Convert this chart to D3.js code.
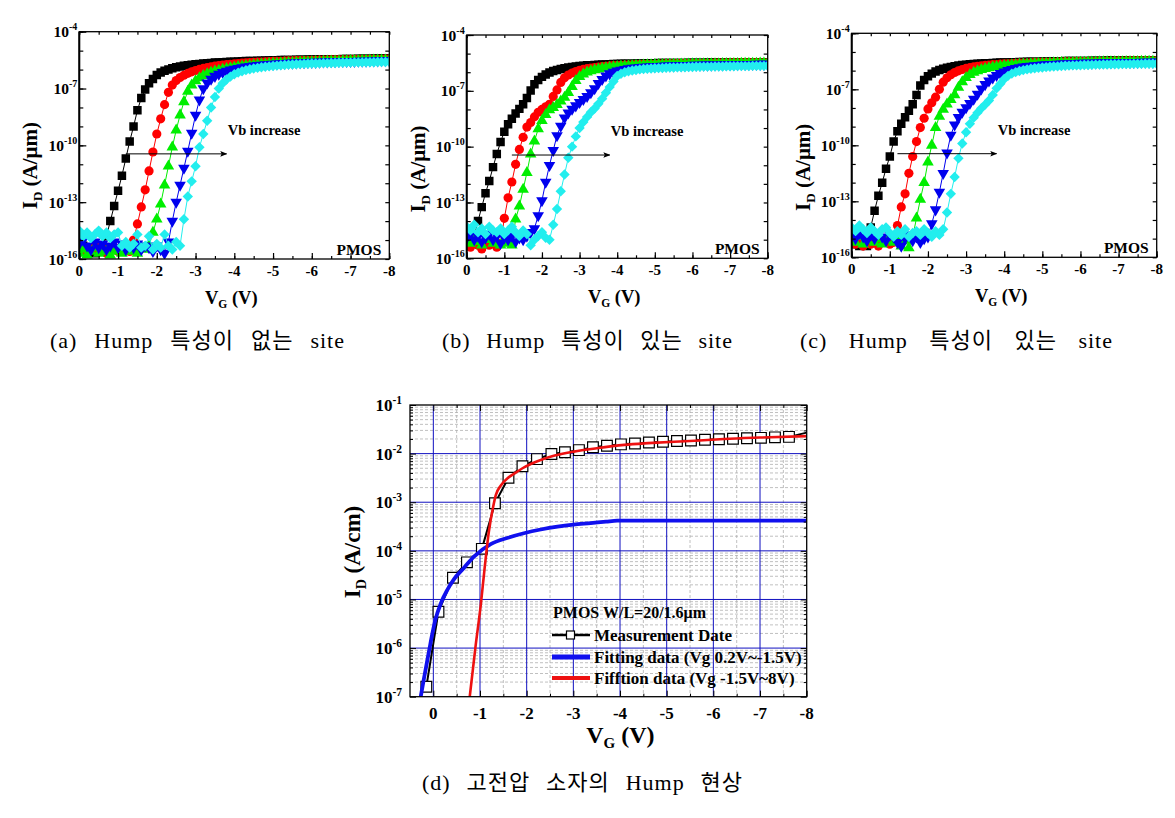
<!DOCTYPE html>
<html><head><meta charset="utf-8">
<script src="https://cdn.jsdelivr.net/npm/d3@7"></script>
<style>
body{margin:0;background:#fff}
svg{display:block}
text{font-family:"Liberation Serif","Times New Roman",serif;}
.b{font-weight:bold}
.cap{font-family:"Liberation Serif","Noto Sans CJK KR",serif;font-size:22px;letter-spacing:1px;}
</style>
</head><body>
<svg id="c" width="1175" height="818"></svg>
<script>
// ---------- DATA ----------
const VG = [0,-0.1,-0.2,-0.3,-0.4,-0.5,-0.6,-0.7,-0.8,-0.9,
 -1,-1.1,-1.2,-1.3,-1.4,-1.5,-1.6,-1.7,-1.8,-1.9,
 -2,-2.1,-2.2,-2.3,-2.4,-2.5,-2.6,-2.7,-2.8,-2.9,
 -3,-3.1,-3.2,-3.3,-3.4,-3.5,-3.6,-3.7,-3.8,-3.9,
 -4,-4.1,-4.2,-4.3,-4.4,-4.5,-4.6,-4.7,-4.8,-4.9,
 -5,-5.1,-5.2,-5.3,-5.4,-5.5,-5.6,-5.7,-5.8,-5.9,
 -6,-6.1,-6.2,-6.3,-6.4,-6.5,-6.6,-6.7,-6.8,-6.9,
 -7,-7.1,-7.2,-7.3,-7.4,-7.5,-7.6,-7.7,-7.8,-7.9,-8];

// panel (a) log10(ID [A/um])
const A_BLACK = [-15.5,-15.3,-15.6,-15.4,-15.7,-15.5,-15.3,-14.8,-14.0,-13.2,
 -12.4,-11.6,-10.7,-9.8,-9.0,-8.15,-7.5,-7.05,-6.72,-6.5,
 -6.28,-6.15,-6.06,-5.99,-5.93,-5.88,-5.84,-5.80,-5.77,-5.74,
 -5.72,-5.70,-5.68,-5.66,-5.65,-5.63,-5.62,-5.61,-5.60,-5.59,
 -5.58,-5.57,-5.56,-5.55,-5.55,-5.54,-5.53,-5.53,-5.52,-5.52,
 -5.51,-5.51,-5.50,-5.50,-5.49,-5.49,-5.48,-5.48,-5.48,-5.47,
 -5.47,-5.47,-5.46,-5.46,-5.46,-5.45,-5.45,-5.45,-5.44,-5.44,
 -5.44,-5.44,-5.43,-5.43,-5.43,-5.43,-5.42,-5.42,-5.42,-5.42,-5.42];
const A_RED = [-15.6,-15.4,-15.7,-15.5,-15.3,-15.6,-15.4,-15.7,-15.5,-15.4,
 -15.6,-15.3,-15.5,-15.6,-15.0,-14.15,-13.25,-12.35,-11.35,-10.35,
 -9.4,-8.6,-7.85,-7.2,-6.82,-6.58,-6.42,-6.30,-6.20,-6.12,
 -6.05,-5.99,-5.94,-5.90,-5.86,-5.82,-5.79,-5.76,-5.74,-5.72,
 -5.70,-5.68,-5.66,-5.65,-5.63,-5.62,-5.61,-5.60,-5.59,-5.58,
 -5.57,-5.56,-5.56,-5.55,-5.54,-5.54,-5.53,-5.53,-5.52,-5.52,
 -5.51,-5.51,-5.50,-5.50,-5.50,-5.49,-5.49,-5.49,-5.48,-5.48,
 -5.48,-5.47,-5.47,-5.47,-5.47,-5.46,-5.46,-5.46,-5.46,-5.45,-5.45];
const A_GREEN = [-15.7,-15.5,-15.8,-15.6,-15.4,-15.7,-15.5,-15.6,-15.8,-15.5,
 -15.6,-15.7,-15.4,-15.6,-15.5,-15.7,-15.4,-15.5,-15.3,-14.6,
 -13.9,-13.1,-12.1,-11.1,-10.1,-9.2,-8.4,-7.7,-7.15,-6.82,
 -6.6,-6.44,-6.32,-6.23,-6.15,-6.09,-6.04,-5.99,-5.95,-5.91,
 -5.88,-5.85,-5.82,-5.80,-5.78,-5.76,-5.74,-5.72,-5.71,-5.69,
 -5.68,-5.67,-5.66,-5.65,-5.64,-5.63,-5.62,-5.61,-5.60,-5.60,
 -5.59,-5.58,-5.58,-5.57,-5.56,-5.56,-5.55,-5.55,-5.54,-5.54,
 -5.53,-5.53,-5.53,-5.52,-5.52,-5.51,-5.51,-5.51,-5.50,-5.50,-5.50];
const A_BLUE = [-15.2,-15.0,-15.3,-15.5,-15.1,-15.4,-15.2,-15.5,-15.3,-15.1,
 -15.4,-15.2,-15.5,-15.3,-15.4,-15.2,-15.5,-15.3,-15.4,-15.6,
 -15.3,-15.5,-15.7,-15.1,-14.0,-13.0,-12.1,-11.2,-10.3,-9.35,
 -8.4,-7.6,-7.0,-6.7,-6.5,-6.35,-6.24,-6.15,-6.08,-6.02,
 -5.97,-5.93,-5.89,-5.86,-5.83,-5.80,-5.78,-5.76,-5.74,-5.72,
 -5.71,-5.70,-5.68,-5.67,-5.66,-5.65,-5.64,-5.63,-5.63,-5.62,
 -5.61,-5.61,-5.60,-5.59,-5.59,-5.58,-5.58,-5.57,-5.57,-5.56,
 -5.56,-5.56,-5.55,-5.55,-5.55,-5.54,-5.54,-5.54,-5.53,-5.53,-5.53];
const A_CYAN = [-14.5,-14.8,-14.6,-14.9,-14.7,-14.5,-14.8,-14.6,-14.9,-14.7,
 -14.6,-15.3,-15.1,-15.4,-15.2,-14.7,-15.4,-15.3,-14.8,-15.5,
 -15.2,-15.4,-14.7,-15.3,-15.5,-15.1,-15.3,-13.9,-12.7,-11.9,
 -11.1,-10.1,-9.4,-8.7,-8.0,-7.45,-7.0,-6.72,-6.52,-6.37,
 -6.25,-6.16,-6.09,-6.03,-5.98,-5.94,-5.91,-5.88,-5.85,-5.83,
 -5.81,-5.79,-5.77,-5.76,-5.74,-5.73,-5.72,-5.71,-5.70,-5.69,
 -5.68,-5.68,-5.67,-5.66,-5.66,-5.65,-5.65,-5.64,-5.64,-5.63,
 -5.63,-5.62,-5.62,-5.62,-5.61,-5.61,-5.61,-5.60,-5.60,-5.60,-5.59];

// panel (b)
const B_BLACK = [-14.9,-15.2,-14.8,-14.0,-13.25,-12.5,-11.85,-11.1,-10.4,-9.75,
 -9.2,-8.8,-8.5,-8.22,-7.97,-7.72,-7.38,-6.98,-6.65,-6.42,
 -6.25,-6.12,-6.02,-5.94,-5.88,-5.83,-5.79,-5.75,-5.72,-5.69,
 -5.67,-5.65,-5.63,-5.62,-5.61,-5.60,-5.59,-5.58,-5.57,-5.56,
 -5.56,-5.55,-5.55,-5.54,-5.54,-5.53,-5.53,-5.53,-5.52,-5.52,
 -5.52,-5.51,-5.51,-5.51,-5.51,-5.50,-5.50,-5.50,-5.50,-5.49,
 -5.49,-5.49,-5.49,-5.49,-5.48,-5.48,-5.48,-5.48,-5.48,-5.48,
 -5.47,-5.47,-5.47,-5.47,-5.47,-5.47,-5.46,-5.46,-5.46,-5.46,-5.46];
const B_RED = [-15.2,-15.4,-15.1,-15.3,-15.5,-15.2,-15.3,-15.1,-15.4,-15.2,
 -13.85,-12.75,-11.9,-10.95,-10.15,-9.5,-8.95,-8.7,-8.4,-8.15,
 -8.0,-7.86,-7.72,-7.3,-6.95,-6.55,-6.3,-6.15,-6.04,-5.96,
 -5.90,-5.85,-5.81,-5.78,-5.75,-5.72,-5.70,-5.68,-5.66,-5.65,
 -5.64,-5.63,-5.62,-5.61,-5.60,-5.59,-5.59,-5.58,-5.58,-5.57,
 -5.57,-5.56,-5.56,-5.55,-5.55,-5.55,-5.54,-5.54,-5.54,-5.53,
 -5.53,-5.53,-5.52,-5.52,-5.52,-5.52,-5.51,-5.51,-5.51,-5.51,
 -5.50,-5.50,-5.50,-5.50,-5.50,-5.49,-5.49,-5.49,-5.49,-5.49,-5.49];
const B_GREEN = [-15.0,-15.2,-14.9,-15.1,-15.3,-15.0,-14.9,-15.2,-15.1,-15.3,
 -15.0,-15.2,-15.3,-13.9,-13.2,-12.3,-11.4,-10.4,-9.7,-9.05,
 -8.6,-8.28,-8.03,-7.9,-7.74,-7.55,-7.35,-7.1,-6.78,-6.45,
 -6.24,-6.1,-6.0,-5.93,-5.88,-5.84,-5.80,-5.77,-5.74,-5.72,
 -5.70,-5.68,-5.67,-5.66,-5.65,-5.64,-5.63,-5.62,-5.61,-5.61,
 -5.60,-5.60,-5.59,-5.59,-5.58,-5.58,-5.58,-5.57,-5.57,-5.57,
 -5.56,-5.56,-5.56,-5.56,-5.55,-5.55,-5.55,-5.55,-5.54,-5.54,
 -5.54,-5.54,-5.54,-5.53,-5.53,-5.53,-5.53,-5.53,-5.52,-5.52,-5.52];
const B_BLUE = [-14.9,-14.7,-15.0,-14.8,-15.1,-14.9,-14.7,-15.0,-14.8,-15.2,
 -14.9,-15.0,-14.8,-15.1,-14.9,-15.0,-14.8,-14.6,-14.4,-13.7,
 -12.9,-11.9,-11.0,-10.2,-9.4,-8.9,-8.45,-8.18,-7.98,-7.8,
 -7.62,-7.46,-7.3,-7.1,-6.88,-6.6,-6.38,-6.2,-6.08,-5.99,
 -5.93,-5.88,-5.84,-5.81,-5.78,-5.76,-5.74,-5.72,-5.71,-5.70,
 -5.69,-5.68,-5.67,-5.66,-5.66,-5.65,-5.64,-5.64,-5.63,-5.63,
 -5.62,-5.62,-5.62,-5.61,-5.61,-5.61,-5.60,-5.60,-5.60,-5.59,
 -5.59,-5.59,-5.59,-5.58,-5.58,-5.58,-5.58,-5.57,-5.57,-5.57,-5.57];
const B_CYAN = [-14.3,-14.5,-14.2,-14.6,-14.4,-14.7,-14.3,-14.5,-14.6,-14.4,
 -14.7,-14.5,-14.3,-14.6,-14.8,-14.5,-14.7,-15.3,-15.0,-14.8,
 -14.6,-14.9,-15.0,-14.2,-13.35,-12.4,-11.5,-10.6,-10.0,-9.45,
 -9.0,-8.68,-8.4,-8.15,-7.95,-7.7,-7.42,-7.1,-6.8,-6.5,
 -6.2,-6.08,-6.0,-5.95,-5.91,-5.88,-5.85,-5.83,-5.81,-5.80,
 -5.79,-5.78,-5.77,-5.76,-5.75,-5.75,-5.74,-5.73,-5.73,-5.72,
 -5.72,-5.71,-5.71,-5.70,-5.70,-5.70,-5.69,-5.69,-5.69,-5.68,
 -5.68,-5.68,-5.67,-5.67,-5.67,-5.67,-5.66,-5.66,-5.66,-5.66,-5.65];

// panel (c)
const C_BLACK = [-15.3,-15.1,-15.4,-15.2,-15.4,-14.4,-13.5,-12.7,-12.0,-11.25,
 -10.6,-9.8,-9.25,-8.85,-8.5,-8.15,-7.8,-7.3,-6.8,-6.5,
 -6.3,-6.16,-6.05,-5.97,-5.9,-5.85,-5.80,-5.76,-5.73,-5.70,
 -5.68,-5.66,-5.64,-5.63,-5.62,-5.61,-5.60,-5.59,-5.58,-5.57,
 -5.57,-5.56,-5.55,-5.55,-5.54,-5.54,-5.53,-5.53,-5.52,-5.52,
 -5.51,-5.51,-5.51,-5.50,-5.50,-5.50,-5.49,-5.49,-5.49,-5.48,
 -5.48,-5.48,-5.48,-5.47,-5.47,-5.47,-5.47,-5.46,-5.46,-5.46,
 -5.46,-5.46,-5.45,-5.45,-5.45,-5.45,-5.45,-5.44,-5.44,-5.44,-5.44];
const C_RED = [-15.1,-15.3,-15.0,-15.4,-15.2,-15.3,-15.1,-15.4,-15.2,-15.0,
 -15.3,-15.2,-14.3,-13.3,-12.6,-11.5,-10.6,-9.8,-9.05,-8.55,
 -8.05,-7.72,-7.42,-7.0,-6.62,-6.38,-6.22,-6.1,-6.01,-5.94,
 -5.88,-5.84,-5.80,-5.77,-5.74,-5.72,-5.70,-5.68,-5.67,-5.65,
 -5.64,-5.63,-5.62,-5.61,-5.60,-5.59,-5.59,-5.58,-5.57,-5.57,
 -5.56,-5.56,-5.55,-5.55,-5.54,-5.54,-5.53,-5.53,-5.53,-5.52,
 -5.52,-5.52,-5.51,-5.51,-5.51,-5.50,-5.50,-5.50,-5.50,-5.49,
 -5.49,-5.49,-5.49,-5.48,-5.48,-5.48,-5.48,-5.48,-5.47,-5.47,-5.47];
const C_GREEN = [-15.0,-15.2,-14.9,-15.3,-15.1,-14.8,-15.2,-15.0,-15.3,-15.1,
 -14.9,-15.2,-15.0,-15.4,-15.1,-15.5,-14.9,-13.9,-12.9,-12.0,
 -10.9,-10.0,-9.05,-8.45,-8.08,-7.8,-7.55,-7.3,-6.9,-6.6,
 -6.38,-6.22,-6.1,-6.02,-5.95,-5.90,-5.86,-5.82,-5.79,-5.76,
 -5.74,-5.72,-5.70,-5.69,-5.67,-5.66,-5.65,-5.64,-5.63,-5.62,
 -5.61,-5.61,-5.60,-5.59,-5.59,-5.58,-5.58,-5.57,-5.57,-5.56,
 -5.56,-5.56,-5.55,-5.55,-5.55,-5.54,-5.54,-5.54,-5.53,-5.53,
 -5.53,-5.53,-5.52,-5.52,-5.52,-5.52,-5.51,-5.51,-5.51,-5.51,-5.51];
const C_BLUE = [-14.8,-15.0,-14.7,-14.9,-15.1,-14.8,-15.0,-14.7,-14.9,-15.1,
 -14.8,-14.9,-15.2,-15.4,-15.0,-14.8,-15.1,-14.9,-15.2,-15.0,
 -14.9,-14.2,-13.45,-12.5,-11.5,-10.4,-9.45,-8.9,-8.5,-8.22,
 -7.98,-7.75,-7.52,-7.25,-6.98,-6.74,-6.55,-6.38,-6.25,-6.14,
 -6.06,-5.99,-5.93,-5.88,-5.84,-5.80,-5.77,-5.75,-5.73,-5.71,
 -5.69,-5.68,-5.67,-5.66,-5.65,-5.64,-5.63,-5.62,-5.62,-5.61,
 -5.60,-5.60,-5.59,-5.59,-5.58,-5.58,-5.57,-5.57,-5.57,-5.56,
 -5.56,-5.56,-5.55,-5.55,-5.55,-5.55,-5.54,-5.54,-5.54,-5.54,-5.53];
const C_CYAN = [-14.4,-14.6,-14.3,-14.5,-14.7,-14.4,-14.6,-14.8,-14.5,-14.4,
 -14.7,-14.9,-14.6,-14.8,-14.5,-14.9,-14.7,-14.6,-14.8,-14.5,
 -14.7,-14.9,-14.6,-14.8,-14.5,-13.6,-12.6,-11.7,-10.7,-9.9,
 -9.3,-8.85,-8.52,-8.25,-8.02,-7.82,-7.6,-7.3,-6.95,-6.7,
 -6.45,-6.28,-6.16,-6.08,-6.02,-5.97,-5.93,-5.90,-5.87,-5.85,
 -5.83,-5.81,-5.79,-5.78,-5.77,-5.75,-5.74,-5.73,-5.72,-5.72,
 -5.71,-5.70,-5.70,-5.69,-5.68,-5.68,-5.67,-5.67,-5.66,-5.66,
 -5.66,-5.65,-5.65,-5.65,-5.64,-5.64,-5.64,-5.63,-5.63,-5.63,-5.63];

// panel (d) ID [A/cm]
const MEAS_V = [0.15,-0.11,-0.42,-0.72,-1.04,-1.32,-1.61,-1.91,-2.22,-2.53,-2.82,-3.12,-3.42,-3.72,-4.02,-4.32,-4.62,-4.92,-5.22,-5.52,-5.82,-6.12,-6.42,-6.72,-7.02,-7.32,-7.62];
const MEAS_I = [1.6e-7,5.6e-6,2.8e-5,5.8e-5,1.1e-4,9.5e-4,3.2e-3,5.5e-3,7.7e-3,9.8e-3,1.07e-2,1.18e-2,1.35e-2,1.45e-2,1.55e-2,1.62e-2,1.7e-2,1.76e-2,1.82e-2,1.86e-2,1.93e-2,1.97e-2,2.02e-2,2.07e-2,2.11e-2,2.16e-2,2.21e-2];
const MEAS_TAIL_V = [-8.0];
const MEAS_TAIL_I = [2.7e-2];
const FIT1_V = [0.27,0.20,0.14,0.08,0.02,-0.05,-0.16,-0.3,-0.44,-0.65,-0.87,-1.23,-1.6,-1.94,-2.3,-2.66,-3.0,-3.37,-3.7,-3.94,-5.0,-6.0,-7.0,-8.0];
const FIT1_I = [1e-7,2.4e-7,4.9e-7,1e-6,2e-6,4e-6,8.3e-6,1.58e-5,2.6e-5,4.4e-5,7.6e-5,1.38e-4,1.86e-4,2.3e-4,2.75e-4,3.16e-4,3.47e-4,3.72e-4,3.98e-4,4.17e-4,4.2e-4,4.2e-4,4.2e-4,4.2e-4];
const FIT2_V = [-0.78,-0.9,-1.02,-1.1,-1.19,-1.28,-1.34,-1.45,-1.59,-1.75,-1.91,-2.1,-2.3,-2.6,-3.01,-3.5,-4.09,-4.6,-5.16,-5.7,-6.23,-7.0,-8.0];
const FIT2_I = [1e-7,1e-6,8.3e-6,4.5e-5,2.5e-4,7.9e-4,1.41e-3,2.24e-3,3.1e-3,3.98e-3,5e-3,6.2e-3,7.4e-3,9.1e-3,1.1e-2,1.29e-2,1.51e-2,1.64e-2,1.76e-2,1.86e-2,2e-2,2.14e-2,2.29e-2];

const X_TICKS_IV = [0,-1,-2,-3,-4,-5,-6,-7,-8];
const Y_LABEL_EXP_IV = [-4,-7,-10,-13,-16];
const Y_LABEL_EXP_D = [-1,-2,-3,-4,-5,-6,-7];
const LEGEND_D = ["Measurement Date","Fitting data (Vg 0.2V~-1.5V)","Fifftion data (Vg -1.5V~8V)"];
const CAPTIONS = ["(a) Hump 특성이 없는 site","(b) Hump 특성이 있는 site","(c) Hump 특성이 있는 site","(d) 고전압 소자의 Hump 현상"];

// ---------- DRAW ----------
const svg = d3.select('#c');
const defs = svg.append('defs');
defs.append('marker').attr('id','ah').attr('viewBox','0 0 10 10').attr('refX',9).attr('refY',5)
  .attr('markerWidth',7).attr('markerHeight',7).attr('markerUnits','userSpaceOnUse').attr('orient','auto')
  .append('path').attr('d','M0,1 L10,5 L0,9 L2,5 Z').attr('fill','#000');

const STYLE = [
  {color:'#000000', sym:d3.symbolSquare, size:72, rot:0},
  {color:'#ff0000', sym:d3.symbolCircle, size:66, rot:0},
  {color:'#00ee00', sym:d3.symbolTriangle, size:58, rot:0},
  {color:'#0000ee', sym:d3.symbolTriangle, size:58, rot:180},
  {color:'#22eeee', sym:d3.symbolSquare, size:54, rot:45}
];

const PANELS = [
  {L:79.3,R:389.3,T:31.7,B:259, series:[A_BLACK,A_RED,A_GREEN,A_BLUE,A_CYAN]},
  {L:466.7,R:767.7,T:35,B:258.3, series:[B_BLACK,B_RED,B_GREEN,B_BLUE,B_CYAN]},
  {L:851.7,R:1156.7,T:33.3,B:257.3, series:[C_BLACK,C_RED,C_GREEN,C_BLUE,C_CYAN]}
];

PANELS.forEach((p,pi)=>{
  const x = d3.scaleLinear().domain([0,-8]).range([p.L,p.R]);
  const y = d3.scaleLog().domain([1e-16,1e-4]).range([p.B,p.T]);
  const g = svg.append('g');
  const cid = 'clip'+pi;
  defs.append('clipPath').attr('id',cid).append('rect')
    .attr('x',p.L).attr('y',p.T).attr('width',p.R-p.L).attr('height',p.B-p.T);
  const pg = g.append('g').attr('clip-path',`url(#${cid})`);
  p.series.forEach((logs,si)=>{
    const st = STYLE[si];
    const pts = logs.map((lv,i)=>[VG[i], Math.pow(10,lv)]);
    pg.append('path').datum(pts).attr('fill','none').attr('stroke',st.color).attr('stroke-width',1)
      .attr('d', d3.line().x(d=>x(d[0])).y(d=>y(d[1])));
    pg.append('g').selectAll('path').data(pts).join('path')
      .attr('d', d3.symbol(st.sym, st.size)())
      .attr('transform', d=>`translate(${x(d[0])},${y(d[1])}) rotate(${st.rot})`)
      .attr('fill', st.color);
  });
  const decades = d3.range(-16,-3).map(e=>Math.pow(10,e));
  const major = Y_LABEL_EXP_IV.map(e=>Math.pow(10,e));
  const halfV = d3.range(0,17).map(k=>-k/2);
  const axG = g.append('g').attr('class','ax');
  axG.append('g').attr('transform',`translate(${p.L},0)`).call(d3.axisLeft(y).tickValues(decades).tickSizeInner(-4).tickSizeOuter(0).tickFormat(''));
  axG.append('g').attr('transform',`translate(${p.L},0)`).call(d3.axisLeft(y).tickValues(major).tickSizeInner(-7).tickSizeOuter(0).tickFormat(''));
  axG.append('g').attr('transform',`translate(${p.R},0)`).call(d3.axisRight(y).tickValues(decades).tickSizeInner(-4).tickSizeOuter(0).tickFormat(''));
  axG.append('g').attr('transform',`translate(0,${p.B})`).call(d3.axisBottom(x).tickValues(halfV).tickSizeInner(-3).tickSizeOuter(0).tickFormat(''));
  axG.append('g').attr('transform',`translate(0,${p.B})`).call(d3.axisBottom(x).tickValues(X_TICKS_IV).tickSizeInner(-6).tickSizeOuter(0).tickFormat(''));
  axG.append('g').attr('transform',`translate(0,${p.T})`).call(d3.axisTop(x).tickValues(halfV).tickSizeInner(-3).tickSizeOuter(0).tickFormat(''));
  axG.selectAll('.domain').remove();
  axG.selectAll('line').attr('stroke','#000').attr('stroke-width',1.2);
  g.append('rect').attr('x',p.L).attr('y',p.T).attr('width',p.R-p.L).attr('height',p.B-p.T)
    .attr('fill','none').attr('stroke','#000').attr('stroke-width',1.3);
  g.append('line').attr('x1',p.L).attr('x2',p.L).attr('y1',p.T).attr('y2',p.B).attr('stroke','#000').attr('stroke-width',2);
  Y_LABEL_EXP_IV.forEach(e=>{
    const t = g.append('text').attr('class','b').attr('text-anchor','end')
      .attr('x',p.L-2).attr('y',y(Math.pow(10,e))+5.5).attr('font-size',15.5);
    t.append('tspan').text('10');
    t.append('tspan').attr('dy',-7).attr('font-size',10).text(String(e));
  });
  X_TICKS_IV.forEach(v=>{
    g.append('text').attr('class','b').attr('text-anchor','middle').attr('font-size',15)
      .attr('x',x(v)).attr('y',p.B+17).text(String(v));
  });
  const xt = g.append('text').attr('class','b').attr('text-anchor','middle').attr('font-size',18.5)
    .attr('x',(p.L+p.R)/2-3).attr('y',p.B+45);
  xt.append('tspan').text('V');
  xt.append('tspan').attr('font-size',11.5).attr('dy',4).text('G');
  xt.append('tspan').attr('dy',-4).text(' (V)');
  const yt = g.append('text').attr('class','b').attr('text-anchor','middle').attr('font-size',21)
    .attr('transform',`translate(${p.L-42},${p.T+134}) rotate(-90)`);
  yt.append('tspan').text('I');
  yt.append('tspan').attr('font-size',13).attr('dy',5).text('D');
  yt.append('tspan').attr('dy',-5).text(' (A/\u03bcm)');
  g.append('line').attr('x1',x(-1.2)).attr('x2',x(-3.8)).attr('y1',y(Math.pow(10,-10.45))).attr('y2',y(Math.pow(10,-10.45)))
    .attr('stroke','#000').attr('stroke-width',1).attr('marker-end','url(#ah)');
  g.append('text').attr('class','b').attr('font-size',14.5).attr('x',x(-3.83)).attr('y',y(Math.pow(10,-9.45))).text('Vb increase');
  g.append('text').attr('class','b').attr('font-size',15.5).attr('text-anchor','end').attr('x',p.R-8).attr('y',p.B-4).text('PMOS');
});

// ---------- panel (d) ----------
(function(){
  const p = {L:410,R:806.7,T:405,B:696.7};
  const x = d3.scaleLinear().domain([0.5,-8]).range([p.L,p.R]);
  const y = d3.scaleLog().domain([1e-7,1e-1]).range([p.B,p.T]);
  const g = svg.append('g');
  defs.append('clipPath').attr('id','clipd').append('rect')
    .attr('x',p.L).attr('y',p.T).attr('width',p.R-p.L).attr('height',p.B-p.T);
  const minorY = [];
  for(let e=-7;e<-1;e++) for(let m=2;m<=9;m++) minorY.push(m*Math.pow(10,e));
  const majorY = Y_LABEL_EXP_D.map(e=>Math.pow(10,e));
  const halfV = [-0.5,-1.5,-2.5,-3.5,-4.5,-5.5,-6.5,-7.5];
  const intV = X_TICKS_IV;
  const grid = g.append('g');
  grid.selectAll('.hm').data(minorY).join('line').attr('x1',p.L).attr('x2',p.R).attr('y1',d=>y(d)).attr('y2',d=>y(d))
    .attr('stroke','#b0b0b0').attr('stroke-width',0.8).attr('stroke-dasharray','3,2');
  grid.selectAll('.vm').data(halfV).join('line').attr('y1',p.T).attr('y2',p.B).attr('x1',d=>x(d)).attr('x2',d=>x(d))
    .attr('stroke','#b0b0b0').attr('stroke-width',0.8).attr('stroke-dasharray','3,2');
  grid.selectAll('.hM').data(majorY.slice(1,6)).join('line').attr('x1',p.L).attr('x2',p.R).attr('y1',d=>y(d)).attr('y2',d=>y(d))
    .attr('stroke','#1010c0').attr('stroke-width',1);
  grid.selectAll('.vM').data(intV.slice(0,8)).join('line').attr('y1',p.T).attr('y2',p.B).attr('x1',d=>x(d)).attr('x2',d=>x(d))
    .attr('stroke','#1010c0').attr('stroke-width',1);

  const pg = g.append('g').attr('clip-path','url(#clipd)');
  const line = d3.line().x(d=>x(d[0])).y(d=>y(d[1]));
  const meas = MEAS_V.map((v,i)=>[v,MEAS_I[i]]);
  const measLine = meas.concat(MEAS_TAIL_V.map((v,i)=>[v,MEAS_TAIL_I[i]]));
  pg.append('path').datum(measLine).attr('fill','none').attr('stroke','#000').attr('stroke-width',2).attr('d',line);
  pg.append('g').selectAll('rect').data(meas).join('path')
    .attr('d', d3.symbol(d3.symbolSquare, 115)())
    .attr('transform',d=>`translate(${x(d[0])},${y(d[1])})`)
    .attr('fill','#fff').attr('stroke','#000').attr('stroke-width',1.2);
  const curve = d3.line().x(d=>x(d[0])).y(d=>y(d[1])).curve(d3.curveMonotoneX);
  pg.append('path').datum(FIT1_V.map((v,i)=>[v,FIT1_I[i]])).attr('fill','none').attr('stroke','#1010ee').attr('stroke-width',3.8).attr('d',curve);
  pg.append('path').datum(FIT2_V.map((v,i)=>[v,FIT2_I[i]])).attr('fill','none').attr('stroke','#ee1111').attr('stroke-width',2.6).attr('d',curve);

  const axG = g.append('g');
  axG.append('g').attr('transform',`translate(${p.L},0)`).call(d3.axisLeft(y).tickValues(minorY).tickSizeInner(-3).tickSizeOuter(0).tickFormat(''));
  axG.append('g').attr('transform',`translate(${p.L},0)`).call(d3.axisLeft(y).tickValues(majorY).tickSizeInner(-6).tickSizeOuter(0).tickFormat(''));
  axG.append('g').attr('transform',`translate(${p.R},0)`).call(d3.axisRight(y).tickValues(minorY).tickSizeInner(-3).tickSizeOuter(0).tickFormat(''));
  axG.append('g').attr('transform',`translate(${p.R},0)`).call(d3.axisRight(y).tickValues(majorY).tickSizeInner(-6).tickSizeOuter(0).tickFormat(''));
  axG.append('g').attr('transform',`translate(0,${p.B})`).call(d3.axisBottom(x).tickValues(halfV).tickSizeInner(-3).tickSizeOuter(0).tickFormat(''));
  axG.append('g').attr('transform',`translate(0,${p.B})`).call(d3.axisBottom(x).tickValues(intV).tickSizeInner(-6).tickSizeOuter(0).tickFormat(''));
  axG.append('g').attr('transform',`translate(0,${p.T})`).call(d3.axisTop(x).tickValues(halfV).tickSizeInner(-3).tickSizeOuter(0).tickFormat(''));
  axG.append('g').attr('transform',`translate(0,${p.T})`).call(d3.axisTop(x).tickValues(intV).tickSizeInner(-6).tickSizeOuter(0).tickFormat(''));
  axG.selectAll('.domain').remove();
  axG.selectAll('line').attr('stroke','#000').attr('stroke-width',1);
  g.append('rect').attr('x',p.L).attr('y',p.T).attr('width',p.R-p.L).attr('height',p.B-p.T)
    .attr('fill','none').attr('stroke','#000').attr('stroke-width',1.3);

  Y_LABEL_EXP_D.forEach(e=>{
    const t = g.append('text').attr('class','b').attr('text-anchor','end')
      .attr('x',p.L-8).attr('y',y(Math.pow(10,e))+6).attr('font-size',17);
    t.append('tspan').text('10');
    t.append('tspan').attr('dy',-7).attr('font-size',11.5).text(String(e));
  });
  intV.forEach(v=>{
    g.append('text').attr('class','b').attr('text-anchor','middle').attr('font-size',17)
      .attr('x',x(v)).attr('y',p.B+22).text(String(v));
  });
  const xt = g.append('text').attr('class','b').attr('text-anchor','middle').attr('font-size',24)
    .attr('x',(p.L+p.R)/2+12).attr('y',p.B+46);
  xt.append('tspan').text('V');
  xt.append('tspan').attr('font-size',15).attr('dy',5).text('G');
  xt.append('tspan').attr('dy',-5).text(' (V)');
  const yt = g.append('text').attr('class','b').attr('text-anchor','middle').attr('font-size',23)
    .attr('transform',`translate(360,552) rotate(-90)`);
  yt.append('tspan').text('I');
  yt.append('tspan').attr('font-size',14).attr('dy',6).text('D');
  yt.append('tspan').attr('dy',-6).text(' (A/cm)');

  const lg = g.append('g');
  lg.append('text').attr('class','b').attr('font-size',16).attr('x',553).attr('y',618).text('PMOS W/L=20/1.6\u03bcm');
  const ly = [635,657,678];
  const lsty = [{c:'#000',w:2.5},{c:'#1010ee',w:5},{c:'#ee1111',w:4}];
  LEGEND_D.forEach((name,i)=>{
    lg.append('line').attr('x1',552).attr('x2',590).attr('y1',ly[i]).attr('y2',ly[i]).attr('stroke',lsty[i].c).attr('stroke-width',lsty[i].w);
    if(i===0) lg.append('rect').attr('x',566.5).attr('y',ly[i]-4).attr('width',8).attr('height',8).attr('fill','#fff').attr('stroke','#000').attr('stroke-width',1.2);
    lg.append('text').attr('class','b').attr('font-size',17).attr('x',594).attr('y',ly[i]+5.5).text(name);
  });
})();

// captions: widen word gaps so each caption spans its measured width
const CAP_POS = [{x:50,y:348,w:295},{x:442,y:348,w:291},{x:800,y:348,w:313},{x:422,y:790,w:321}];
CAPTIONS.forEach((c,i)=>{
  const t = svg.append('text').attr('class','cap').attr('x',CAP_POS[i].x).attr('y',CAP_POS[i].y).text(c);
  const nat = t.node().getComputedTextLength();
  const gaps = c.split(' ').length-1;
  const ws = Math.max(0,(CAP_POS[i].w - nat)/gaps);
  t.attr('word-spacing', ws);
});
</script>
</body></html>
